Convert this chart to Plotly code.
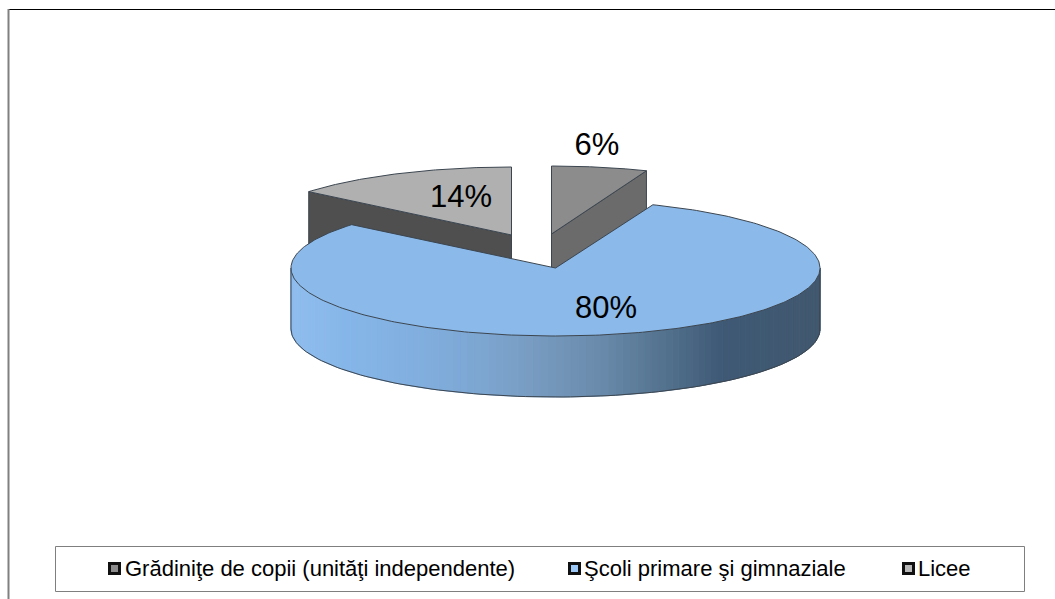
import math
import plotly.graph_objects as go

categories = ["Grădiniţe de copii (unităţi independente)", "Şcoli primare şi gimnaziale", "Licee"]
values = [6, 80, 14]

top_colors = ["#8c8c8c", "#8ab9ea", "#b0b0b0"]
wall_colors = ["#6b6b6b", None, "#4f4f4f"]
key_colors = ["#8c8c8c", "#9cc8f8", "#b8b8b8"]
grad_stops = [(291, "#8fbdee"), (350, "#86b6e9"), (450, "#7fabd9"), (520, "#7a9fc6"),
              (600, "#6a8bab"), (660, "#557490"), (720, "#3f5a76"), (820, "#41586f")]

CX, CY, RX, RY, DEPTH = 555.5, 268, 264.5, 68, 61
OFFSETS = [(-4, -34), (0, 0), (-44, -33)]
SCALES = [0.975, 1, 0.995]
LINE = "#3c4650"
FONT = "Liberation Sans, Arial, sans-serif"

fig = go.Figure()


def angles(a0, a1, n=120):
    return [a0 + (a1 - a0) * i / n for i in range(n + 1)]


def pt(a, dx=0, dy=0, s=1):
    r = math.radians(a)
    return CX + dx + s * RX * math.sin(r), CY + dy - RY * math.cos(r)


def poly(xs, ys, fill, line=LINE, width=1, name=None):
    fig.add_trace(go.Scatter(x=xs, y=ys, mode="lines", fill="toself", fillcolor=fill,
                             line=dict(color=line, width=width), showlegend=False,
                             hoverinfo="skip", name=name))


def color_at(x):
    def h(c):
        return [int(c[i:i + 2], 16) for i in (1, 3, 5)]
    for (x0, c0), (x1, c1) in zip(grad_stops, grad_stops[1:]):
        if x <= x1:
            t = max(0, (x - x0) / (x1 - x0))
            a, b = h(c0), h(c1)
            return "rgb(%d,%d,%d)" % tuple(a[i] + (b[i] - a[i]) * t for i in range(3))
    return grad_stops[-1][1]


total = sum(values)
spans = []
start = 0
for v in values:
    spans.append((start, start + 360 * v / total))
    start += 360 * v / total

# exploded slices: first and third, drawn behind the large one
for i in (0, 2):
    a0, a1 = spans[i]
    dx, dy = OFFSETS[i]
    s = SCALES[i]
    ax, ay = CX + dx, CY + dy
    sign = a1 if i == 0 else a0
    ex, ey = pt(sign, dx, dy, s)
    poly([ax, ex, ex, ax, ax], [ay, ey, ey + DEPTH, ay + DEPTH, ay], wall_colors[i])
    arc = [pt(a, dx, dy, s) for a in angles(a0, a1)]
    poly([ax] + [p[0] for p in arc] + [ax], [ay] + [p[1] for p in arc] + [ay], top_colors[i])

# large slice: rim (front half) then top face
a0, a1 = spans[1]
n = 110
rim = angles(90, 270, n)
for a, b in zip(rim, rim[1:]):
    pa, pb = pt(a), pt(b)
    c = color_at((pa[0] + pb[0]) / 2)
    fig.add_trace(go.Scatter(x=[pa[0], pb[0], pb[0], pa[0], pa[0]],
                             y=[pa[1], pb[1], pb[1] + DEPTH, pa[1] + DEPTH, pa[1]],
                             mode="lines", fill="toself", fillcolor=c,
                             line=dict(color=c, width=1), showlegend=False, hoverinfo="skip"))
front = [pt(a, 0, DEPTH) for a in rim]
fig.add_trace(go.Scatter(x=[pt(90)[0]] + [p[0] for p in front] + [pt(270)[0]],
                         y=[pt(90)[1]] + [p[1] for p in front] + [pt(270)[1]],
                         mode="lines", line=dict(color=LINE, width=1),
                         showlegend=False, hoverinfo="skip"))
arc = [pt(a) for a in angles(a0, a1, 300)]
poly([CX] + [p[0] for p in arc] + [CX], [CY] + [p[1] for p in arc] + [CY], top_colors[1])

# value labels
fig.add_trace(go.Scatter(x=[597, 606, 461], y=[147, 310, 199], mode="text",
                         text=[f"{v}%" for v in values],
                         textfont=dict(family=FONT, size=31, color="#000000"),
                         showlegend=False, hoverinfo="skip"))

# legend row
key_x = [114.5, 574.5, 908.5]
text_x = [125, 584, 918]
for k, t, c, col in zip(key_x, text_x, categories, key_colors):
    fig.add_trace(go.Scatter(x=[k], y=[568.5], mode="markers", name=c,
                             marker=dict(symbol="square", size=10, color=col,
                                         line=dict(color="#111111", width=3)),
                             showlegend=False, hoverinfo="skip"))
    fig.add_annotation(x=t, y=568, text=c, showarrow=False, xanchor="left", yanchor="middle",
                       xshift=-2, font=dict(family=FONT, size=22, color="#000000"))

fig.update_layout(
    width=1055, height=599, margin=dict(l=0, r=0, t=0, b=0),
    paper_bgcolor="#ffffff", plot_bgcolor="#ffffff", showlegend=False,
    xaxis=dict(range=[0, 1055], visible=False, fixedrange=True),
    yaxis=dict(range=[599, 0], visible=False, fixedrange=True),
    shapes=[
        dict(type="line", x0=8, x1=1055, y0=9.5, y1=9.5, line=dict(color="#000000", width=1), layer="below"),
        dict(type="line", x0=8.5, x1=8.5, y0=9, y1=599, line=dict(color="#808080", width=2), layer="below"),
        dict(type="rect", x0=55.5, x1=1024.5, y0=546.5, y1=591.5, line=dict(color="#7f7f7f", width=1), layer="below"),
    ],
)
fig.write_html("out.html", config={"displayModeBar": False},
               post_script="document.body.style.margin='0';document.documentElement.style.overflow='hidden';")
